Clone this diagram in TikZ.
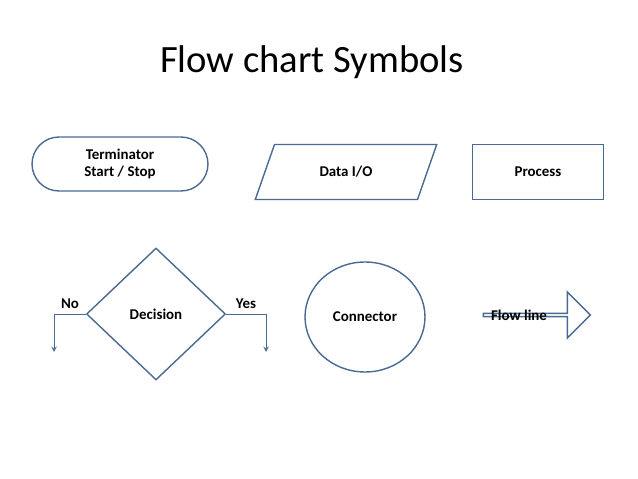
\documentclass[tikz,border=0pt]{standalone}
\usepackage{fontspec}
\setmainfont{Carlito}
\usetikzlibrary{shapes.geometric,shapes.misc,shapes.arrows}
\definecolor{symline}{HTML}{4A6A92}
\begin{document}
\begin{tikzpicture}[
   x=0.02cm,y=-0.02cm,
   every node/.style={font=\bfseries\fontsize{8.5}{10}\selectfont,align=center},
   sym/.style={draw=symline,thick,inner sep=0pt},
   to/.style={->,symline,thin,>=stealth}]
\useasboundingbox (0,0) rectangle (638,479);
\node[font=\fontsize{22}{26}\selectfont] (title) at (312,62) {Flow chart Symbols};
\node[sym,rounded rectangle,minimum width=3.52cm,minimum height=1.08cm] (term) at (120,164) {Terminator\\Start / Stop};
\node[sym,trapezium,trapezium left angle=57.5,trapezium right angle=122.5,trapezium stretches=true,minimum width=3.64cm,minimum height=1.1cm] (io) at (346,172) {Data I/O};
\node[sym,rectangle,minimum width=2.62cm,minimum height=1.1cm] (proc) at (538,172) {Process};
\node[sym,diamond,minimum width=2.78cm,minimum height=2.64cm] (dec) at (156,314) {Decision};
\node[sym,ellipse,minimum width=2.4cm,minimum height=2.2cm] (con) at (365,317) {Connector};
\node[sym,single arrow,single arrow head extend=0.18cm,minimum width=0.92cm,minimum height=2.14cm,single arrow tip angle=90] (flow) at (536,315) {};
\node (flowtxt) at (519,315) {Flow line};
\coordinate (nocorner) at (54,314);
\coordinate (noend) at (54,352);
\coordinate (yescorner) at (266,314);
\coordinate (yesend) at (266,352);
\draw[to] (dec.west) -- (nocorner) -- (noend);
\draw[to] (dec.east) -- (yescorner) -- (yesend);
\node (no) at (70,304) {No};
\node (yes) at (246,304) {Yes};
\end{tikzpicture}
\end{document}
